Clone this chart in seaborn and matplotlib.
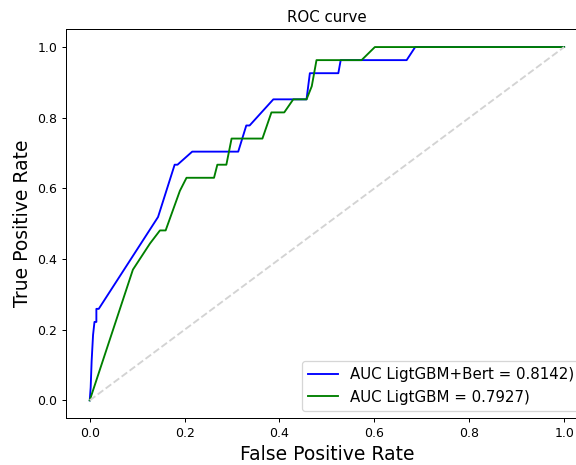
import matplotlib
matplotlib.use("Agg")
import matplotlib.pyplot as plt
import seaborn as sns
import pandas as pd

# Data
fpr_bert = [0.0, 0.002, 0.004, 0.007, 0.010, 0.014, 0.014, 0.019, 0.144, 0.179, 0.185,
            0.216, 0.313, 0.330, 0.337, 0.387, 0.457, 0.464, 0.524, 0.529, 0.668, 0.686, 1.0]
tpr_bert = [0.0, 0.037, 0.111, 0.185, 0.222, 0.222, 0.259, 0.259, 0.519, 0.667, 0.667,
            0.704, 0.704, 0.778, 0.778, 0.852, 0.852, 0.926, 0.926, 0.963, 0.963, 1.0, 1.0]

fpr_lgb = [0.0, 0.091, 0.127, 0.148, 0.160, 0.190, 0.204, 0.262, 0.269, 0.288, 0.299,
           0.364, 0.383, 0.410, 0.429, 0.457, 0.468, 0.478, 0.573, 0.601, 1.0]
tpr_lgb = [0.0, 0.370, 0.444, 0.481, 0.481, 0.593, 0.630, 0.630, 0.667, 0.667, 0.741,
           0.741, 0.815, 0.815, 0.852, 0.852, 0.889, 0.963, 0.963, 1.0, 1.0]

diag = [0.0, 1.0]
label_bert = "AUC LigtGBM+Bert = 0.8142)"
label_lgb = "AUC LigtGBM = 0.7927)"

DPI = 90
fig = plt.figure(figsize=(576 / DPI, 465 / DPI), dpi=DPI)
ax = fig.add_axes([0.1146, 0.101, 0.906, 0.8358])

df_b = pd.DataFrame({"fpr": fpr_bert, "tpr": tpr_bert})
df_g = pd.DataFrame({"fpr": fpr_lgb, "tpr": tpr_lgb})
df_d = pd.DataFrame({"x": diag, "y": diag})

sns.lineplot(data=df_b, x="fpr", y="tpr", sort=False, estimator=None, color="blue",
             label=label_bert, ax=ax, linewidth=1.5)
sns.lineplot(data=df_g, x="fpr", y="tpr", sort=False, estimator=None, color="green",
             label=label_lgb, ax=ax, linewidth=1.5)
sns.lineplot(data=df_d, x="x", y="y", sort=False, estimator=None, color="lightgray",
             linestyle="--", ax=ax, linewidth=1.5)

ax.set_xlim(-0.05, 1.05)
ax.set_ylim(-0.05, 1.05)
ax.set_xticks([0.0, 0.2, 0.4, 0.6, 0.8, 1.0])
ax.set_yticks([0.0, 0.2, 0.4, 0.6, 0.8, 1.0])
ax.set_xlabel("False Positive Rate", fontsize=15)
ax.set_ylabel("True Positive Rate", fontsize=15)
ax.set_title("ROC curve")
ax.legend(loc="lower right", fontsize=12)

fig.savefig("out.png", dpi=DPI)
